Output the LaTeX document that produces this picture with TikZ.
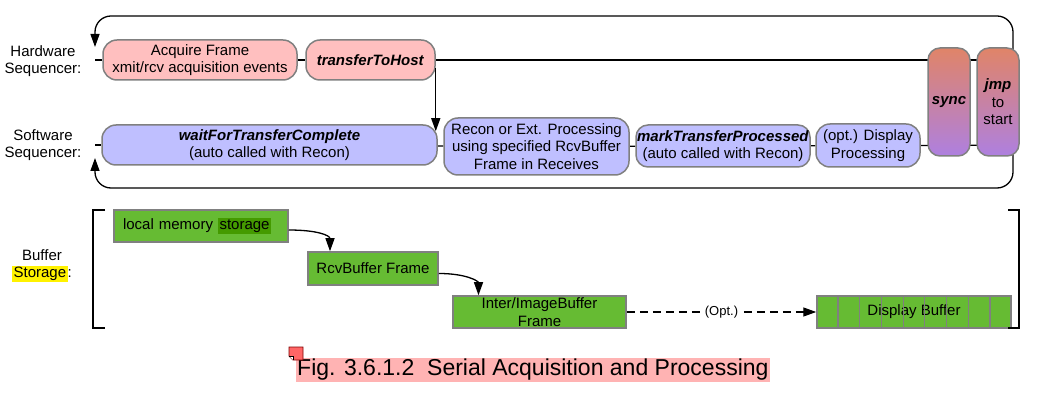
\documentclass[tikz,border=0pt]{standalone}
\usepackage{fontspec}
\setmainfont{Liberation Sans}
\usetikzlibrary{positioning}
\usetikzlibrary{arrows.meta,calc}
\pgfdeclarelayer{background}
\pgfsetlayers{background,main}

\definecolor{hwpink}{HTML}{FFBFBF}
\definecolor{swblue}{HTML}{BFBFFF}
\definecolor{jmptop}{HTML}{E08468}
\definecolor{jmpbot}{HTML}{AE80E0}
\definecolor{bufgreen}{HTML}{66BB33}
\definecolor{darkgreen}{HTML}{449A00}
\definecolor{boxgray}{HTML}{808080}
\definecolor{capred}{HTML}{FFB3B3}
\definecolor{notered}{HTML}{FF6666}

\newcommand{\boxfont}{\fontsize{15}{17.5}\selectfont}
\newcommand{\hlbox}[2]{{\setlength{\fboxsep}{1.5pt}\colorbox{#1}{#2}}}

\begin{document}
\begin{tikzpicture}[x=1pt,y=-1pt,
						every node/.style={font=\boxfont, inner sep=1pt},
						hwbox/.style={draw=boxgray, fill=hwpink, line width=1.5pt, rounded corners=14pt, align=center, minimum height=40pt},
						swbox/.style={draw=boxgray, fill=swblue, line width=1.5pt, rounded corners=14pt, align=center, minimum height=40pt},
						jmpbox/.style={draw=boxgray, line width=1.5pt, rounded corners=12pt, top color=jmptop, bottom color=jmpbot, align=center, minimum width=42pt, minimum height=108pt},
						bufbox/.style={draw=boxgray, fill=bufgreen, line width=1.5pt, align=center, minimum height=32pt, inner ysep=0pt},
						arr/.style={line width=1.3pt, -{Triangle[length=13pt,width=9pt]}},
						seqline/.style={line width=1.3pt},
						]
						\useasboundingbox (0,0) rectangle (1056,411);
						%Nodes
						\node[align=center]   (hwlabel)  at (43,61)      {Hardware\\Sequencer:};
						\node[align=center]   (swlabel)  at (43,145)     {Software\\Sequencer:};
						\node[hwbox, minimum width=194pt] (acq) at (200,60) {Acquire Frame\\xmit/rcv acquisition events};
						\node[hwbox, minimum width=129pt] (tth) at (370.5,60) {\textbf{\textit{transferToHost}}};
						\node[swbox, minimum width=335pt] (wait) at (269.5,145) {\textbf{\textit{waitForTransferComplete}}\\(auto called with Recon)};
						\node[swbox, minimum width=185pt, minimum height=57pt] (recon) at (536.5,146.5) {Recon or Ext. Processing\\using specified RcvBuffer\\Frame in Receives};
						\node[swbox, minimum width=174pt, minimum height=42pt, rounded corners=12pt] (mark) at (723,146) {\textbf{\textit{markTransferProcessed}}\\(auto called with Recon)};
						\node[swbox, minimum width=104pt, minimum height=43pt] (dproc) at (868,145.5) {(opt.) Display\\Processing};
						\node[jmpbox]         (sync)     at (949,102)    {\textbf{\textit{sync}}};
						\node[jmpbox]         (jmp)      at (998,102)    {\textbf{\textit{jmp}}\\to\\start};

						\node[align=center]   (buflabel) at (42,266)     {Buffer\\\hlbox{yellow}{Storage}:};
						\node[bufbox, text width=156pt, align=left, inner xsep=9pt] (local) at (201,226) {local memory \hlbox{darkgreen}{storage}};
						\node[bufbox, minimum width=130pt, minimum height=33pt] (rcv) at (373,268.5) {RcvBuffer Frame};
						\node[bufbox, minimum width=173pt] (inter) at (539.5,312) {Inter/ImageBuffer\\Frame};
						\node[bufbox, minimum width=194pt] (disp)  at (914,312)   {Display Buffer};
						\foreach \i in {1,...,8}
							\draw[boxgray, line width=1.2pt] ($(disp.north west)!\i/9!(disp.north east)$) -- ($(disp.south west)!\i/9!(disp.south east)$);

						\node[fill=capred, inner xsep=1pt, inner ysep=0pt, text height=18pt, text depth=6pt, font=\fontsize{23}{26}\selectfont, anchor=west] (caption) at (296,369.5) {Fig. 3.6.1.2\ \ Serial Acquisition and Processing};
						\filldraw[fill=notered, draw=red!50!black, line width=0.8pt] (289,347) -- (303,347) -- (303,360) -- (293,360) -- (289,356) -- cycle;
						\draw[fill=white, line width=0.6pt] (289,356) -- (293,356) -- (293,360);

						%Brackets
						\draw[line width=1.5pt] (105,210) -- (93,210) -- (93,328) -- (105,328);
						\draw[line width=1.5pt] (1008,210) -- (1019,210) -- (1019,328) -- (1008,328);

						\begin{pgfonlayer}{background}
						%Lines
						\coordinate (hwstart)  at (95,60);
						\coordinate (hwarrow)  at (95,47);
						\coordinate (hwcorner) at (95,16);
						\coordinate (hwend)    at (1013,60);
						\coordinate (swstart)  at (95,145);
						\coordinate (swarrow)  at (95,158);
						\coordinate (swcorner) at (95,188);
						\coordinate (swend)    at (1013,145);

						\draw[seqline] (hwstart) -- (acq.west);
						\draw[seqline] (acq) -- (tth);
						\draw[seqline] (tth.east) -- (hwend);
						\draw[arr, rounded corners=16pt] (hwend) |- (hwcorner) -- (hwarrow);

						\draw[seqline] (swstart) -- (wait.west);
						\draw[seqline] (wait) -- (recon);
						\draw[seqline] (recon) -- (mark);
						\draw[seqline] (mark) -- (dproc);
						\draw[seqline] (dproc.east) -- (swend);
						\draw[arr, rounded corners=16pt] (swend) |- (swcorner) -- (swarrow);
						\end{pgfonlayer}

						\draw[arr] ([yshift=-8pt]tth.east) -- ([yshift=-7pt]tth.east |- wait.north);
						\draw[arr] ([yshift=-4pt]local.east) .. controls +(28,0) and +(0,-16) .. ([xshift=-43pt]rcv.north);
						\draw[arr] ([yshift=-5pt]rcv.east) .. controls +(28,0) and +(0,-14) .. ([xshift=-61pt]inter.north);
						\draw[arr, dash pattern=on 8pt off 5pt] (inter.east) -- node[fill=white, font=\fontsize{13}{15}\selectfont, inner xsep=3pt] (opt) {(Opt.)} (disp.west);
					\end{tikzpicture}
\end{document}
